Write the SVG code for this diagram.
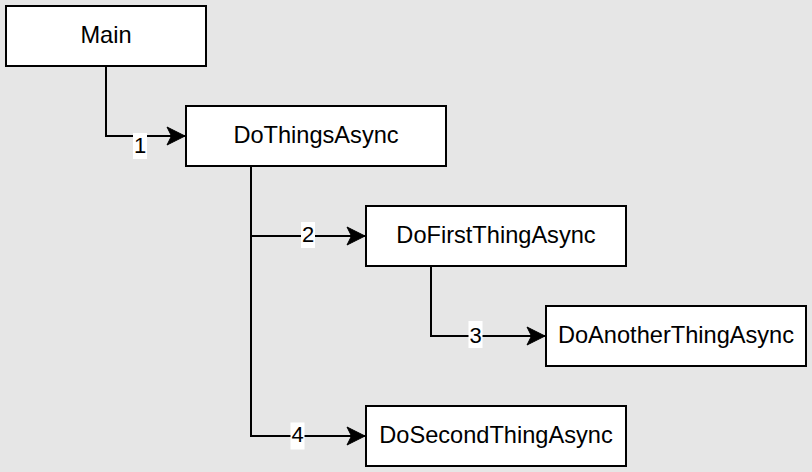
<svg xmlns="http://www.w3.org/2000/svg" width="812" height="472" viewBox="0 0 812 472">
<defs>
<style>
.node rect{fill:#FFFFFF;stroke:#000000;stroke-width:2}
.node text{font-family:"Liberation Sans",Arial,Helvetica,sans-serif;font-size:23.6px;fill:#000000;text-anchor:middle}
.edge path{fill:none;stroke:#000000;stroke-width:2}
.lbl rect{fill:#FFFFFF;stroke:none}
.lbl text{font-family:"Liberation Sans",Arial,Helvetica,sans-serif;font-size:22px;fill:#000000;text-anchor:middle}
</style>
<marker id="arrow" markerUnits="userSpaceOnUse" markerWidth="20" markerHeight="20" refX="18" refY="9" orient="auto" overflow="visible">
<path d="M0,0 L18,9 L0,18 L4.5,9 Z" fill="#000000" stroke="#000000" stroke-width="1" stroke-linejoin="miter"/>
</marker>
</defs>
<rect x="0" y="0" width="812" height="472" fill="#E6E6E6"/>
<g id="connectors">
<g class="edge" id="e1"><path d="M106,66 V136 H185" marker-end="url(#arrow)"/></g>
<g class="edge" id="e2"><path d="M251,166 V236 H365" marker-end="url(#arrow)"/></g>
<g class="edge" id="e3"><path d="M431,266 V336 H545" marker-end="url(#arrow)"/></g>
<g class="edge" id="e4"><path d="M251,166 V436 H365" marker-end="url(#arrow)"/></g>
<g class="lbl"><rect x="133" y="133" width="14" height="26"/><text x="140" y="152.5">1</text></g>
<g class="lbl"><rect x="301" y="222" width="14" height="26"/><text x="308" y="242">2</text></g>
<g class="lbl"><rect x="468.5" y="321" width="14" height="27"/><text x="475.5" y="342.5">3</text></g>
<g class="lbl"><rect x="290.5" y="422.5" width="14" height="27"/><text x="297.5" y="442">4</text></g>
</g>
<g class="node" id="main"><rect x="6" y="6" width="200" height="60"/><text x="106" y="43">Main</text></g>
<g class="node" id="dothings"><rect x="186" y="106" width="260" height="60"/><text x="316" y="143">DoThingsAsync</text></g>
<g class="node" id="dofirst"><rect x="366" y="206" width="260" height="60"/><text x="496" y="243">DoFirstThingAsync</text></g>
<g class="node" id="doanother"><rect x="546" y="306" width="260" height="60"/><text x="676" y="343">DoAnotherThingAsync</text></g>
<g class="node" id="dosecond"><rect x="366" y="406" width="260" height="60"/><text x="496" y="443">DoSecondThingAsync</text></g>
</svg>
